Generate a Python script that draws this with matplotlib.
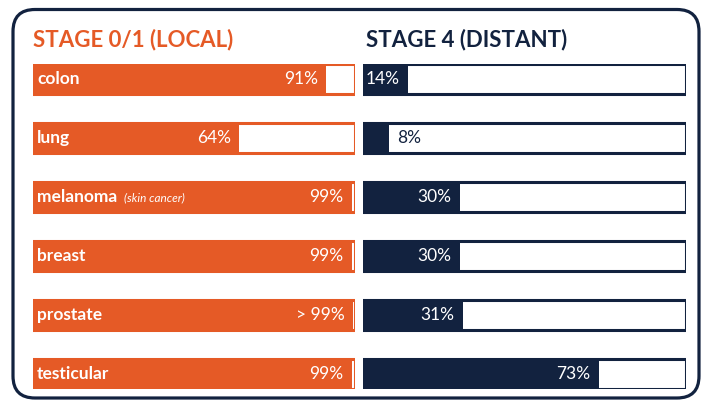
import matplotlib
matplotlib.use("Agg")
import matplotlib.pyplot as plt
from matplotlib.patches import FancyBboxPatch

plt.rcParams['font.family'] = ['Lato', 'DejaVu Sans']

ORANGE = "#E55A26"
NAVY = "#12223F"

cancers = ["colon", "lung", "melanoma", "breast", "prostate", "testicular"]
notes = ["", "", "(skin cancer)", "", "", ""]
local_vals = [91, 64, 99, 99, 99.5, 99]
local_labels = ["91%", "64%", "99%", "99%", "> 99%", "99%"]
distant_vals = [14, 8, 30, 30, 31, 73]
distant_labels = ["14%", "8%", "30%", "30%", "31%", "73%"]

fig = plt.figure(figsize=(7.08, 4.01), dpi=100)

# rounded frame around everything
bg = fig.add_axes([0, 0, 1, 1])
bg.set_xlim(0, 708)
bg.set_ylim(0, 401)
bg.axis("off")
bg.add_patch(FancyBboxPatch((13, 3), 686, 388.5,
                            boxstyle="round,pad=0,rounding_size=22",
                            facecolor="white", edgecolor=NAVY, linewidth=2.3))

bar_h = 0.51
y = list(range(len(cancers)))


def draw_panel(ax, vals, labels, color, names=False):
    lw = 2.2
    full = [100] * len(y)
    ax.barh(y, full, height=bar_h, color="white", linewidth=0, zorder=1)
    ax.barh(y, vals, height=bar_h, color=color, linewidth=0, zorder=2)
    ax.barh(y, full, height=bar_h, facecolor="none", edgecolor=color,
            linewidth=lw, zorder=3)
    for i, (v, lab) in enumerate(zip(vals, labels)):
        if v < 10:
            ax.annotate(lab, (v, i), xytext=(6, 0), textcoords="offset points",
                        ha="left", va="center", color=color, fontsize=12.5,
                        zorder=4)
        else:
            ax.annotate(lab, (v, i), xytext=(-6, 0), textcoords="offset points",
                        ha="right", va="center", color="white", fontsize=12.5,
                        zorder=4)
    if names:
        for i, name in enumerate(cancers):
            t = ax.annotate(name, (0, i), xytext=(3, 0), textcoords="offset points",
                            ha="left", va="center", color="white", fontsize=12.5,
                            fontweight="bold", zorder=4)
            if notes[i]:
                ax.annotate(notes[i], xy=(1, 0), xycoords=t, xytext=(5, 1),
                            textcoords="offset points", ha="left", va="bottom",
                            color="white", fontsize=8.5, fontstyle="italic",
                            zorder=4)
    ax.set_xlim(0, 100)
    ax.set_ylim(len(y) - 1 + bar_h / 2, -bar_h / 2)
    ax.axis("off")


bottom = 1 - 389 / 401
top = 1 - 64 / 401
ax1 = fig.add_axes([33 / 708, bottom, 322 / 708, top - bottom])
ax2 = fig.add_axes([363 / 708, bottom, 323 / 708, top - bottom])

draw_panel(ax1, local_vals, local_labels, ORANGE, names=True)
draw_panel(ax2, distant_vals, distant_labels, NAVY)

fig.text(33 / 708, 1 - 40 / 401, "STAGE 0/1 (LOCAL)", color=ORANGE,
         fontsize=16, fontweight="bold", ha="left", va="center")
fig.text(366 / 708, 1 - 40 / 401, "STAGE 4 (DISTANT)", color=NAVY,
         fontsize=16, fontweight="bold", ha="left", va="center")

fig.savefig("out.png", dpi=100)
